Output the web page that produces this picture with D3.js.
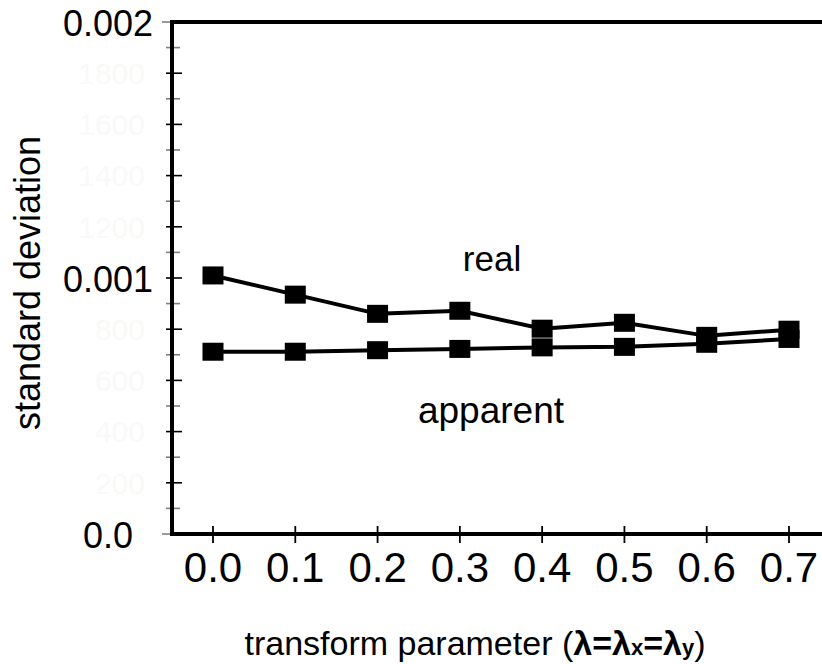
<!DOCTYPE html>
<html>
<head>
<meta charset="utf-8">
<script src="https://cdn.jsdelivr.net/npm/d3@7"></script>
<style>
  body { margin: 0; background: #fff; }
  text { font-family: 'Liberation Sans', Arial, Helvetica, sans-serif; }
</style>
</head>
<body>
<svg id="vis" width="822" height="664"></svg>
<script>
// data
const lambdas = [0.0, 0.1, 0.2, 0.3, 0.4, 0.5, 0.6, 0.7];
const realSd = [0.00101, 0.000935, 0.00086, 0.000872, 0.000802, 0.000825, 0.000774, 0.000798];
const apparentSd = [0.000712, 0.000712, 0.000718, 0.000723, 0.000729, 0.000731, 0.000743, 0.000762];
const yLabelValues = [0, 0.001, 0.002];
const yLabelText = ['0.0', '0.001', '0.002'];
// faint old labels that show through (the ones under 0.001 / 0.002 are hidden)
const yGhostLabels = [200, 400, 600, 800, 1200, 1400, 1600, 1800];

const svg = d3.select('#vis');
const width = +svg.attr('width');

const x = d3.scaleLinear().domain([0, 0.7]).range([213, 789]);
const y = d3.scaleLinear().domain([0, 0.002]).range([534, 22]);
const axisX = 172;

// faint leftover labels behind the y axis
svg.append('g')
  .selectAll('text')
  .data(yGhostLabels)
  .enter()
  .append('text')
  .attr('x', 145)
  .attr('y', d => y(d / 1e6))
  .attr('dy', '0.36em')
  .attr('text-anchor', 'end')
  .style('font-size', '30px')
  .style('fill', '#faf9f7')
  .text(d => d);

// y ticks: minor every 0.0001, major every 0.0002
const yTickVals = d3.range(0, 21).map(i => i * 0.0001);
svg.append('g')
  .selectAll('line')
  .data(yTickVals)
  .enter()
  .append('line')
  .attr('x1', (d, i) => (i === 0 || i === 20) ? 162 : 166)
  .attr('x2', (d, i) => (i % 2 === 0) ? 182 : 180)
  .attr('y1', d => y(d))
  .attr('y2', d => y(d))
  .attr('stroke', (d, i) => (i % 2 === 0 && i !== 0 && i !== 20) ? '#000' : '#808080')
  .attr('stroke-width', 1.6);

// frame: y axis, x axis, top line
svg.append('path')
  .attr('d', `M${width},${y(0.002)}H${axisX}V${y(0)}H${width}`)
  .attr('fill', 'none')
  .attr('stroke', '#000')
  .attr('stroke-width', 4)
  .attr('stroke-linejoin', 'miter');

// y labels
svg.append('g')
  .selectAll('text')
  .data(yLabelValues)
  .enter()
  .append('text')
  .attr('x', 108)
  .attr('y', d => y(d) + 1.5)
  .attr('dy', '0.36em')
  .attr('text-anchor', 'middle')
  .style('font-size', '36px')
  .style('fill', '#000')
  .text((d, i) => yLabelText[i]);

// x ticks cross the axis
svg.append('g')
  .selectAll('line')
  .data(lambdas)
  .enter()
  .append('line')
  .attr('x1', d => x(d))
  .attr('x2', d => x(d))
  .attr('y1', y(0) - 8)
  .attr('y2', y(0) + 9)
  .attr('stroke', '#000')
  .attr('stroke-width', 1.8);

svg.append('g')
  .selectAll('text')
  .data(lambdas)
  .enter()
  .append('text')
  .attr('x', d => x(d))
  .attr('y', 582)
  .attr('text-anchor', 'middle')
  .style('font-size', '42px')
  .text(d => d.toFixed(1));

// series
const line = d3.line()
  .x((d, i) => x(lambdas[i]))
  .y(d => y(d));

[apparentSd, realSd].forEach(series => {
  svg.append('path')
    .datum(series)
    .attr('d', line)
    .attr('fill', 'none')
    .attr('stroke', '#000')
    .attr('stroke-width', 4);

  svg.append('g')
    .selectAll('rect')
    .data(series)
    .enter()
    .append('rect')
    .attr('x', (d, i) => x(lambdas[i]) - 10.5)
    .attr('y', d => y(d) - 9)
    .attr('width', 21)
    .attr('height', 18)
    .attr('fill', '#000');
});

// series labels
svg.append('text')
  .attr('x', 492)
  .attr('y', 271)
  .attr('text-anchor', 'middle')
  .style('font-size', '35px')
  .text('real');

svg.append('text')
  .attr('x', 491)
  .attr('y', 423)
  .attr('text-anchor', 'middle')
  .style('font-size', '37px')
  .text('apparent');

// axis titles
svg.append('text')
  .attr('transform', 'translate(40,283) rotate(-90)')
  .attr('text-anchor', 'middle')
  .style('font-size', '36px')
  .text('standard deviation');

const xTitle = svg.append('text')
  .attr('x', 475)
  .attr('y', 655)
  .attr('text-anchor', 'middle')
  .style('font-size', '34px');
xTitle.append('tspan').text('transform parameter (');
xTitle.append('tspan').style('font-weight', 'bold').text('λ=λ');
xTitle.append('tspan').style('font-weight', 'bold').style('font-size', '22px').text('x');
xTitle.append('tspan').style('font-weight', 'bold').text('=λ');
xTitle.append('tspan').style('font-weight', 'bold').style('font-size', '22px').text('y');
xTitle.append('tspan').text(')');
</script>
</body>
</html>
